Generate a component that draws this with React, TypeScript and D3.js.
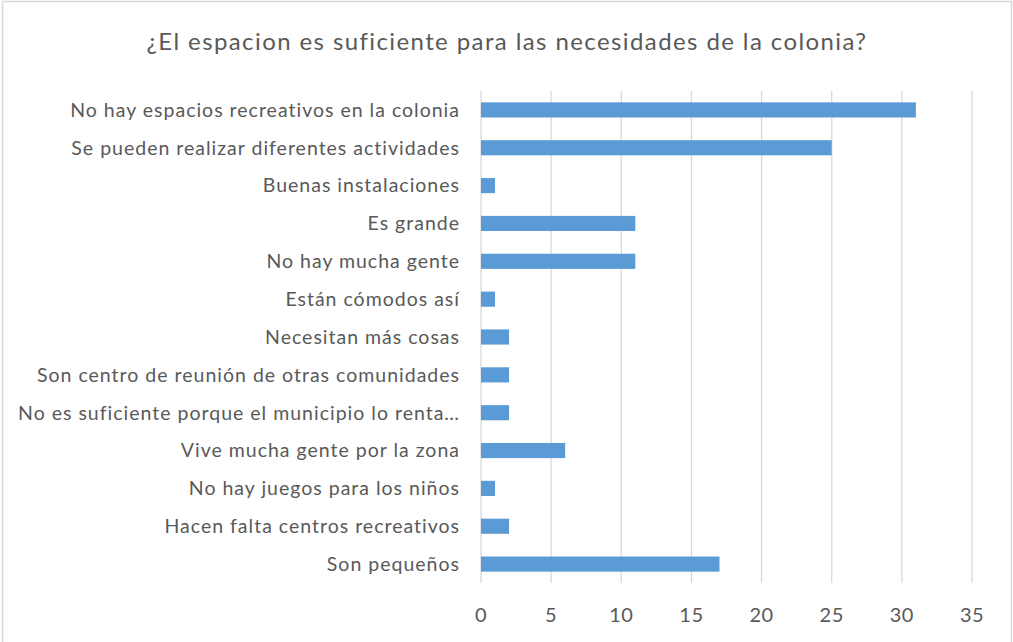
import React from "react";
import * as d3 from "d3";

const categories = [
  "No hay espacios recreativos en la colonia",
  "Se pueden realizar diferentes actividades",
  "Buenas instalaciones",
  "Es grande",
  "No hay mucha gente",
  "Están cómodos así",
  "Necesitan más cosas",
  "Son centro de reunión de otras comunidades",
  "No es suficiente porque el municipio lo renta…",
  "Vive mucha gente por la zona",
  "No hay juegos para los niños",
  "Hacen falta centros recreativos",
  "Son pequeños",
];
const values = [31, 25, 1, 11, 11, 1, 2, 2, 2, 6, 1, 2, 17];
const ticks = [0, 5, 10, 15, 20, 25, 30, 35];
const title = "¿El espacion es suficiente para las necesidades de la colonia?";

const W = 1013;
const H = 642;
const left = 481;
const right = 972;
const top = 91;
const bottom = 583;
const font = "Lato, sans-serif";
const textColor = "#595959";

export default function App() {
  const x = d3.scaleLinear().domain([0, 35]).range([left, right]);
  const y = d3.scaleBand<string>().domain(categories).range([top, bottom]).paddingInner(0.6).paddingOuter(0.3);
  return (
    <svg width={W} height={H} style={{ position: "absolute", left: 0, top: 0 }} fontFamily={font}>
      <rect x={0} y={0} width={W} height={H} fill="#fff" />
      <rect x={2.5} y={1.5} width={1009} height={H + 10} fill="none" stroke="#d9d9d9" strokeWidth={1.5} />
      <text x={507} y={50} textAnchor="middle" fontSize={24} letterSpacing={1.4} fill={textColor}>{title}</text>
      {ticks.map((t) => (
        <g key={t}>
          <line x1={x(t)} x2={x(t)} y1={top} y2={bottom} stroke="#d9d9d9" strokeWidth={1.3} />
          <text x={x(t)} y={622} textAnchor="middle" fontSize={20} letterSpacing={0.5} fill={textColor}>{t}</text>
        </g>
      ))}
      {categories.map((c, i) => (
        <g key={c}>
          <rect x={x(0)} y={y(c)!} width={x(values[i]) - x(0)} height={y.bandwidth()} fill="#5B9BD5" />
          <text x={460} y={y(c)! + y.bandwidth() / 2} dy="0.35em" textAnchor="end" fontSize={19.5} letterSpacing={1} fill={textColor}>{c}</text>
        </g>
      ))}
    </svg>
  );
}
